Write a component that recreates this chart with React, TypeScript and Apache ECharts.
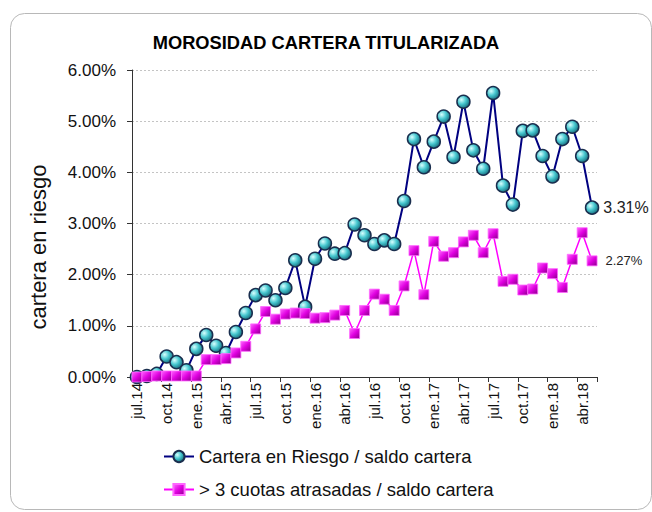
import React, { useEffect, useRef } from "react";
import * as echarts from "echarts";

const TITLE = "MOROSIDAD CARTERA TITULARIZADA";
const Y_NAME = "cartera en riesgo";
const SERIES_A_NAME = "Cartera en Riesgo / saldo cartera";
const SERIES_B_NAME = "> 3 cuotas atrasadas / saldo cartera";

const categories = [
  "jul.14", "ago.14", "sep.14", "oct.14", "nov.14", "dic.14",
  "ene.15", "feb.15", "mar.15", "abr.15", "may.15", "jun.15", "jul.15", "ago.15", "sep.15", "oct.15", "nov.15", "dic.15",
  "ene.16", "feb.16", "mar.16", "abr.16", "may.16", "jun.16", "jul.16", "ago.16", "sep.16", "oct.16", "nov.16", "dic.16",
  "ene.17", "feb.17", "mar.17", "abr.17", "may.17", "jun.17", "jul.17", "ago.17", "sep.17", "oct.17", "nov.17", "dic.17",
  "ene.18", "feb.18", "mar.18", "abr.18", "may.18",
];

// percent values
const carteraRiesgo = [
  0.0, 0.02, 0.06, 0.4, 0.29, 0.13,
  0.55, 0.82, 0.61, 0.47, 0.88, 1.25, 1.6, 1.69, 1.5, 1.74, 2.28, 1.37,
  2.31, 2.61, 2.41, 2.42, 2.98, 2.77, 2.6, 2.67, 2.6, 3.44, 4.65, 4.1,
  4.6, 5.09, 4.3, 5.38, 4.43, 4.07, 5.55, 3.74, 3.37, 4.81, 4.82, 4.32,
  3.92, 4.65, 4.89, 4.32, 3.31,
];

const cuotasAtrasadas = [
  0.0, 0.01, 0.02, 0.02, 0.02, 0.02,
  0.02, 0.34, 0.34, 0.36, 0.47, 0.6, 0.94, 1.28, 1.13, 1.23, 1.25, 1.24,
  1.15, 1.16, 1.21, 1.3, 0.85, 1.3, 1.62, 1.52, 1.3, 1.78, 2.47, 1.61,
  2.65, 2.36, 2.43, 2.64, 2.77, 2.43, 2.8, 1.87, 1.91, 1.7, 1.72, 2.13,
  2.02, 1.75, 2.3, 2.82, 2.27,
];

const Y_MIN = 0;
const Y_MAX = 6;
const Y_INTERVAL = 1;

const FONT = "'Liberation Sans', Arial, sans-serif";

function withLastLabel(values: number[], fontSize: number, distance: number) {
  return values.map((v, i) =>
    i === values.length - 1
      ? {
          value: v,
          label: {
            show: true,
            position: "right",
            distance,
            formatter: v.toFixed(2) + "%",
            fontSize,
            fontFamily: FONT,
            color: "#222",
          },
        }
      : v
  );
}

export default function App() {
  const ref = useRef<HTMLDivElement>(null);

  useEffect(() => {
    if (!ref.current) return;
    const chart = echarts.init(ref.current, undefined, { renderer: "svg" });
    const circleFill = new echarts.graphic.RadialGradient(0.35, 0.35, 0.75, [
      { offset: 0, color: "#d8ffff" },
      { offset: 0.45, color: "#48c8d0" },
      { offset: 1, color: "#0e5e70" },
    ]);
    const squareFill = new echarts.graphic.LinearGradient(0, 0, 1, 1, [
      { offset: 0, color: "#ff66ff" },
      { offset: 0.5, color: "#e000e0" },
      { offset: 1, color: "#8a008a" },
    ]);
    chart.setOption({
      animation: false,
      backgroundColor: "#fff",
      textStyle: { fontFamily: FONT },
      title: {
        text: TITLE,
        left: "center",
        top: 33,
        padding: 0,
        textStyle: { fontSize: 18.3, fontWeight: "bold", color: "#000", fontFamily: FONT },
      },
      graphic: [
        {
          type: "rect",
          shape: { x: 10.5, y: 13.5, width: 641, height: 496, r: 14 },
          style: { fill: "none", stroke: "#b8b8b8", lineWidth: 1 },
          silent: true,
        },
        {
          type: "text",
          x: 38,
          y: 247,
          rotation: Math.PI / 2,
          style: {
            text: Y_NAME,
            fontSize: 22,
            fontFamily: FONT,
            fill: "#111",
            align: "center",
            verticalAlign: "middle",
          },
          silent: true,
        },
      ],
      legend: {
        orient: "vertical",
        left: 163,
        top: 447,
        padding: 0,
        itemWidth: 30,
        itemHeight: 14,
        itemGap: 14,
        textStyle: { fontSize: 18.5, color: "#111", fontFamily: FONT },
        data: [SERIES_A_NAME, SERIES_B_NAME],
      },
      grid: { left: 132, right: 55, top: 70, bottom: 135, containLabel: false },
      xAxis: {
        type: "category",
        data: categories,
        boundaryGap: true,
        axisLine: { show: true, lineStyle: { color: "#333", width: 1 } },
        axisTick: {
          show: true,
          length: 5,
          interval: (index: number) => index % 3 === 0,
          lineStyle: { color: "#333" },
        },
        axisLabel: {
          interval: (index: number) => index % 3 === 0,
          rotate: 90,
          fontSize: 15,
          color: "#111",
          margin: 6,
          fontFamily: FONT,
        },
        splitLine: { show: false },
      },
      yAxis: {
        type: "value",
        min: Y_MIN,
        max: Y_MAX,
        interval: Y_INTERVAL,
        axisLine: { show: true, lineStyle: { color: "#333", width: 1 } },
        axisTick: { show: true, length: 5, lineStyle: { color: "#333" } },
        axisLabel: {
          formatter: (v: number) => v.toFixed(2) + "%",
          fontSize: 17,
          color: "#111",
          margin: 16,
          fontFamily: FONT,
        },
        splitLine: { show: true, lineStyle: { color: "#c4c4c4", type: [2, 2], width: 1 } },
      },
      series: [
        {
          name: SERIES_A_NAME,
          type: "line",
          data: withLastLabel(carteraRiesgo, 16, 4),
          symbol: "circle",
          symbolSize: 13,
          showSymbol: true,
          showAllSymbol: true,
          lineStyle: { color: "#000080", width: 2 },
          itemStyle: { color: circleFill, borderColor: "#1a2e4e", borderWidth: 1.5 },
          labelLayout: { hideOverlap: false },
          z: 2,
        },
        {
          name: SERIES_B_NAME,
          type: "line",
          data: withLastLabel(cuotasAtrasadas, 13, 8),
          symbol: "rect",
          symbolSize: 10,
          showSymbol: true,
          showAllSymbol: true,
          lineStyle: { color: "#ff00ff", width: 1.5 },
          itemStyle: { color: squareFill, borderColor: "#ff66ff", borderWidth: 0.8 },
          z: 3,
        },
      ],
    });
    return () => chart.dispose();
  }, []);

  return (
    <div
      ref={ref}
      style={{ position: "fixed", left: 0, top: 0, width: 652, height: 512, background: "#fff" }}
    />
  );
}
